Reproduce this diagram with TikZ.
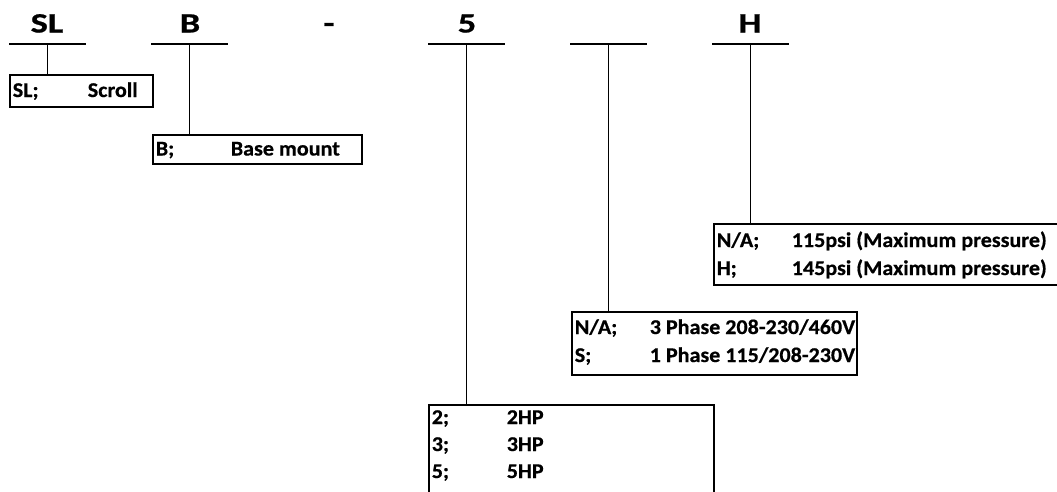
\documentclass[tikz,border=0pt]{standalone}
\usepackage{fontspec}
\setmainfont{Carlito}
\newfontfamily\hdrfont{Carlito}[FakeStretch=1.3,FakeBold=0.8]
\newfontfamily\cellfont{Carlito}[FakeStretch=1.05,FakeBold=0.6]
\begin{document}
\begin{tikzpicture}[x=1pt,y=-1pt,line width=1.6pt,
  hdr/.style={font=\hdrfont\fontsize{28}{30}\selectfont\bfseries,anchor=base,inner sep=0pt},
  cell/.style={font=\cellfont\fontsize{21}{24}\selectfont\bfseries,anchor=base west,inner sep=0pt},
  codebox/.style={draw,rectangle,anchor=north west,inner sep=0pt,line width=1.6pt},
  hline/.style={line width=1.6pt}
]
\useasboundingbox (0,0) rectangle (1057,491);
\clip (0,0) rectangle (1057,491);

% header letters
\node[hdr] (tSL) at (47,32.5) {SL};
\node[hdr] (tB) at (190,32.5) {B};
\node[hdr] (tD) at (329,32.5) {-};
\node[hdr] (t5) at (467,32.5) {5};
\node[hdr] (tH) at (750,32.5) {H};

% header line centres
\coordinate (h1) at (47.5,44);
\coordinate (h2) at (189.5,44);
\coordinate (h3) at (466.5,44);
\coordinate (h4) at (608.5,44);
\coordinate (h5) at (750.5,44);
\foreach \c in {h1,h2,h3,h4,h5}{
  \draw[hline] ([xshift=-38.5pt]\c) -- ([xshift=38.5pt]\c);
}

% boxes
\node[codebox,minimum width=143pt,minimum height=32pt] (bSL) at (9,74) {};
\node[codebox,minimum width=209pt,minimum height=29pt] (bB) at (152,134) {};
\node[codebox,minimum width=285pt,minimum height=130pt] (b5) at (428,404) {};
\node[codebox,minimum width=285pt,minimum height=63pt] (bP) at (571,311) {};
\node[codebox,minimum width=400pt,minimum height=61pt] (bH) at (713,223) {};

% connectors
\draw (h1) -- (h1 |- bSL.north);
\draw (h2) -- (h2 |- bB.north);
\draw (h3) -- (h3 |- b5.north);
\draw (h4) -- (h4 |- bP.north);
\draw (h5) -- (h5 |- bH.north);

% texts
\node[cell] (c11) at (12,97) {SL;};
\node[cell] (c12) at (87,97) {Scroll};
\node[cell] (c21) at (155,155.5) {B;};
\node[cell] (c22) at (230,155.5) {Base mount};

\node[cell] (c31) at (431,424) {2;};
\node[cell] (c32) at (506,424) {2HP};
\node[cell] (c33) at (431,451) {3;};
\node[cell] (c34) at (506,451) {3HP};
\node[cell] (c35) at (431,478) {5;};
\node[cell] (c36) at (506,478) {5HP};

\node[cell] (c41) at (574,334) {N/A;};
\node[cell] (c42) at (649,334) {3 Phase 208-230/460V};
\node[cell] (c43) at (574,362) {S;};
\node[cell] (c44) at (649,362) {1 Phase 115/208-230V};

\node[cell] (c51) at (716,247) {N/A;};
\node[cell] (c52) at (791,247) {115psi (Maximum pressure)};
\node[cell] (c53) at (716,275) {H;};
\node[cell] (c54) at (791,275) {145psi (Maximum pressure)};
\end{tikzpicture}
\end{document}
